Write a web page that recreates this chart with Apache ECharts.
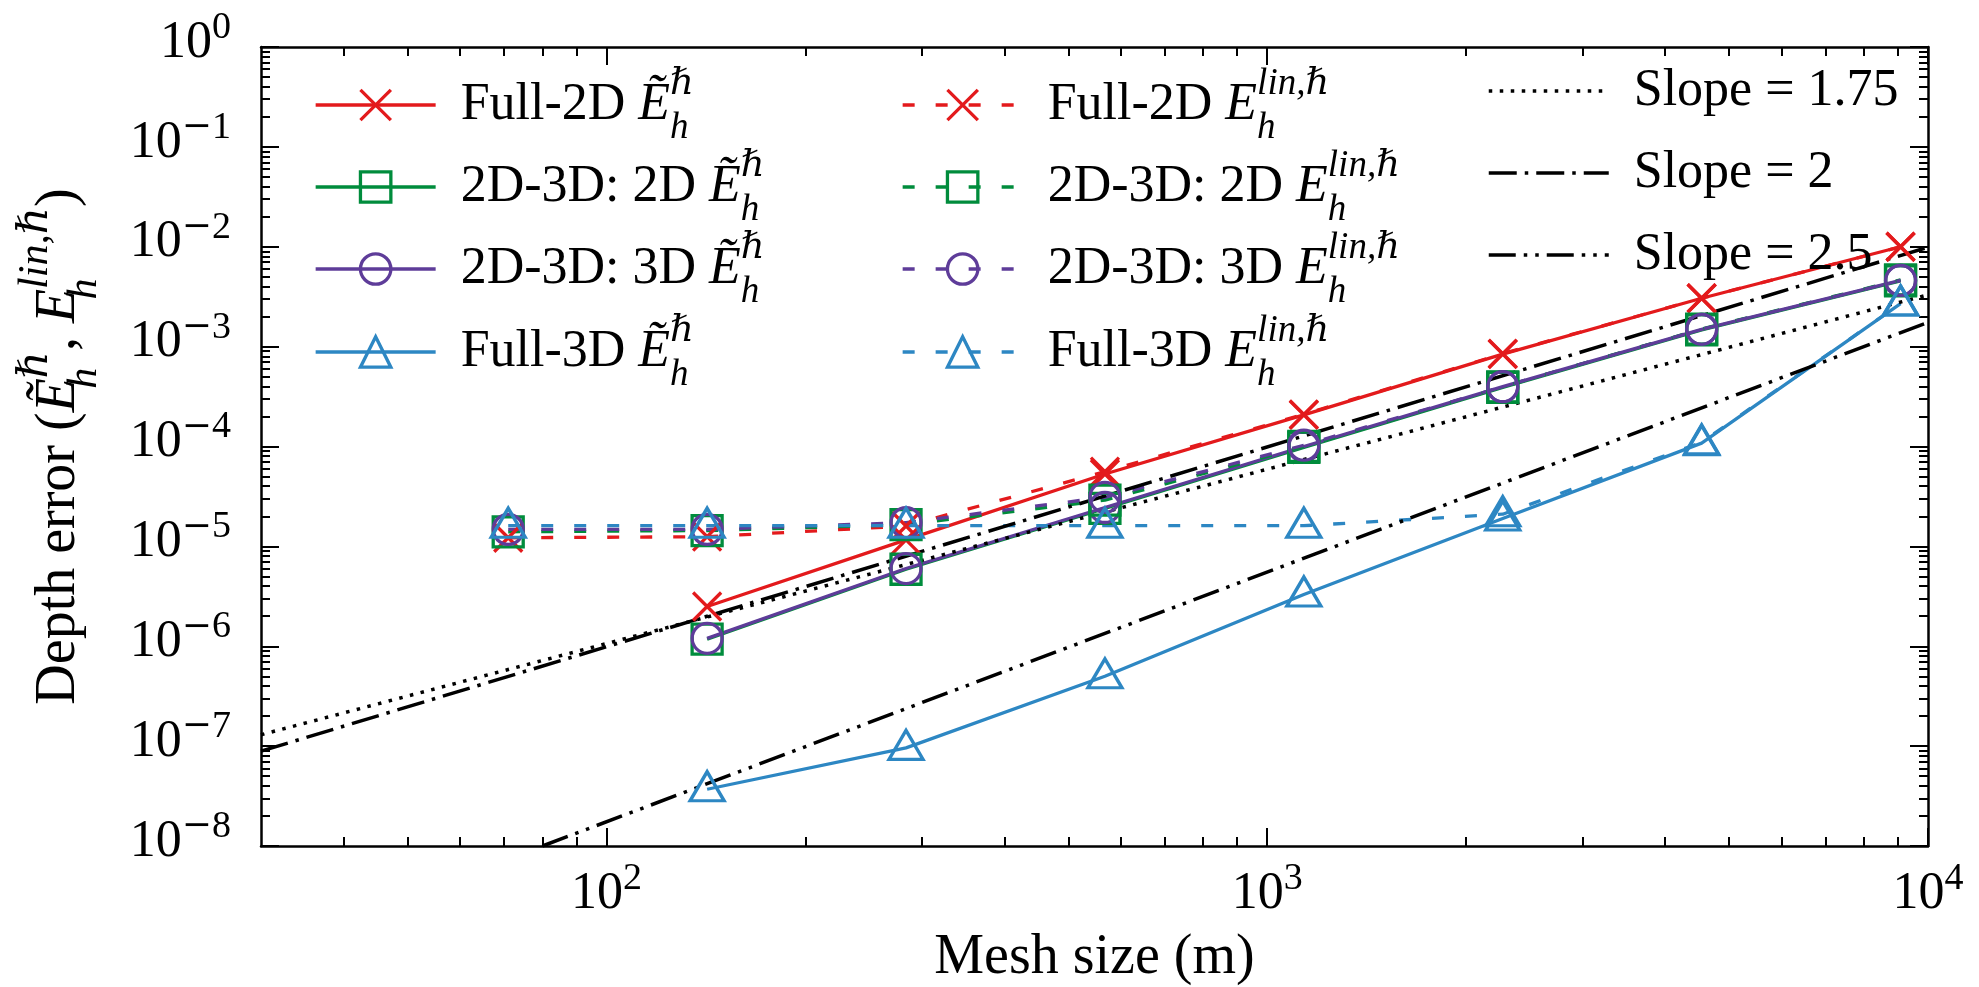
<!DOCTYPE html>
<html>
<head>
<meta charset="utf-8">
<script src="https://cdn.jsdelivr.net/npm/echarts@6/dist/echarts.min.js"></script>
<style>
  html, body { margin: 0; padding: 0; background: #fff; }
  #chart { width: 1979px; height: 987px; }
</style>
</head>
<body>
<div id="chart"></div>
<script>
// Mesh sizes (m) of the refinement sequence
const meshSize = [71, 142, 284, 568, 1136, 2272, 4544, 9088];

// Error estimator (solid lines)
const full2dTilde    = [null, 2.5e-6, 1.16e-5, 5.3e-5, 2.07e-4, 8.4e-4, 3.05e-3, 1.0e-2];
const coupled2dTilde = [null, 1.18e-6, 5.9e-6, 2.4e-5, 9.8e-5, 3.9e-4, 1.47e-3, 4.55e-3];
const coupled3dTilde = [null, 1.2e-6, 6.0e-6, 2.45e-5, 1.0e-4, 3.97e-4, 1.49e-3, 4.6e-3];
const full3dTilde    = [null, 3.7e-8, 9.6e-8, 5.0e-7, 3.3e-6, 1.9e-5, 1.08e-4, 2.7e-3];

// Linearised error (dashed lines)
const full2dLin    = [1.22e-5, 1.25e-5, 1.6e-5, 5.6e-5, 2.1e-4, 8.5e-4, 3.05e-3, 1.0e-2];
const coupled2dLin = [1.40e-5, 1.44e-5, 1.65e-5, 2.9e-5, 1.0e-4, 3.95e-4, 1.5e-3, 4.65e-3];
const coupled3dLin = [1.48e-5, 1.48e-5, 1.73e-5, 3.1e-5, 1.03e-4, 3.97e-4, 1.49e-3, 4.6e-3];
const full3dLin    = [1.61e-5, 1.61e-5, 1.61e-5, 1.61e-5, 1.61e-5, 2.1e-5, 1.1e-4, 2.7e-3];

// Reference slopes (end points of each straight line)
const slope175X = [30, 10000];
const slope175Y = [1.3e-7, 3.3e-3];
const slope2X   = [30, 10000];
const slope2Y   = [8.9e-8, 9.9e-3];
const slope25X  = [80, 10000];
const slope25Y  = [1.0e-8, 1.75e-3];

// Axis ranges and decade tick exponents
const xRange = [30, 10000];
const yRange = [1e-8, 1];
const xMajorExp = [2, 3, 4];
const yMajorExp = [-8, -7, -6, -5, -4, -3, -2, -1, 0];
const minorMult = [2, 3, 4, 5, 6, 7, 8, 9];

const FONT = "'Liberation Serif', 'DejaVu Serif', serif";
const WIDE = "'DejaVu Serif', serif";
const C = { red: '#e31a1c', green: '#008c3c', purple: '#5e3c99', blue: '#2d87c3', black: '#000' };
const X_MARK = 'path://M0,0L10,10M10,0L0,10';

// ---- tick positions in log10 space (for the frame axes) ----
const lx0 = Math.log10(xRange[0]), lx1 = Math.log10(xRange[1]);
const ly0 = Math.log10(yRange[0]), ly1 = Math.log10(yRange[1]);
function minorTicks(lo, hi) {
  const out = [];
  for (let d = Math.floor(lo); d < Math.ceil(hi); d++) {
    minorMult.forEach(m => {
      const v = Math.log10(m) + d;
      if (v > lo + 1e-9 && v < hi - 1e-9) out.push(v);
    });
  }
  return out;
}
const xMinor = minorTicks(lx0, lx1);
const yMinor = minorTicks(ly0, ly1);

// ---- rich text styles ----
function mathRich(fs, lh, sfs, supH, subH) {
  return {
    m:  { fontFamily: FONT, fontSize: fs, lineHeight: lh, color: '#000' },
    i:  { fontFamily: FONT, fontSize: fs, lineHeight: lh, fontStyle: 'italic', color: '#000' },
    sp: { fontFamily: FONT, fontSize: sfs, fontStyle: 'italic', verticalAlign: 'top',
          height: supH, lineHeight: supH, color: '#000' },
    sb: { fontFamily: FONT, fontSize: sfs, fontStyle: 'italic', verticalAlign: 'bottom',
          height: subH, lineHeight: subH, width: 0, color: '#000' }
  };
}
const tickRich = {
  n:  { fontFamily: FONT, fontSize: 52, lineHeight: 60, color: '#000' },
  e:  { fontFamily: FONT, fontSize: 38, verticalAlign: 'top', height: 30, lineHeight: 30, color: '#000' },
  em: { fontFamily: WIDE, fontSize: 36, verticalAlign: 'top', height: 30, lineHeight: 30, color: '#000' }
};
function powLabel(v) {
  const k = Math.round(v);
  return '{n|10}' + (k < 0 ? '{em|\u2212}{e|' + (-k) + '}' : '{e|' + k + '}');
}

const E_T = '{i|\u1EBC}{sb|h}{sp|\u210F}';
const E_L = '{i|E}{sb|h}{sp|lin,\u210F}';

// ---- series ----
function pairs(xs, ys) {
  return xs.map((x, i) => (ys[i] == null ? null : [x, ys[i]])).filter(Boolean);
}
const DASH = [12, 21];
const seriesDefs = [
  { name: 'Full-2D Etilde',   label: '{m|Full-2D }' + E_T,   x: meshSize, y: full2dTilde,    color: C.red,    symbol: X_MARK,     size: 28, line: 'solid', w: 3.3 },
  { name: '2D-3D: 2D Etilde', label: '{m|2D-3D: 2D }' + E_T, x: meshSize, y: coupled2dTilde, color: C.green,  symbol: 'rect',     size: 30, line: 'solid', w: 3.3 },
  { name: '2D-3D: 3D Etilde', label: '{m|2D-3D: 3D }' + E_T, x: meshSize, y: coupled3dTilde, color: C.purple, symbol: 'circle',   size: 30, line: 'solid', w: 3.3 },
  { name: 'Full-3D Etilde',   label: '{m|Full-3D }' + E_T,   x: meshSize, y: full3dTilde,    color: C.blue,   symbol: 'triangle', size: [34, 29], line: 'solid', w: 3.3 },
  { name: 'Full-2D Elin',     label: '{m|Full-2D }' + E_L,   x: meshSize, y: full2dLin,      color: C.red,    symbol: X_MARK,     size: 28, line: DASH, w: 3.3 },
  { name: '2D-3D: 2D Elin',   label: '{m|2D-3D: 2D }' + E_L, x: meshSize, y: coupled2dLin,   color: C.green,  symbol: 'rect',     size: 30, line: DASH, w: 3.3 },
  { name: '2D-3D: 3D Elin',   label: '{m|2D-3D: 3D }' + E_L, x: meshSize, y: coupled3dLin,   color: C.purple, symbol: 'circle',   size: 30, line: DASH, w: 3.3 },
  { name: 'Full-3D Elin',     label: '{m|Full-3D }' + E_L,   x: meshSize, y: full3dLin,      color: C.blue,   symbol: 'triangle', size: [34, 29], line: DASH, w: 3.3 },
  { name: 'Slope=1.75',       label: '{m|Slope = 1.75}',     x: slope175X, y: slope175Y,     color: C.black,  symbol: 'none', line: [3.5, 7.5], w: 3.5 },
  { name: 'Slope=2',          label: '{m|Slope = 2}',        x: slope2X,   y: slope2Y,       color: C.black,  symbol: 'none', line: [28, 8, 3.5, 8], w: 3.5 },
  { name: 'Slope=2.5',        label: '{m|Slope = 2.5}',      x: slope25X,  y: slope25Y,      color: C.black,  symbol: 'none', line: [27, 8, 3.5, 8, 3.5, 8], w: 3.5 }
];

const series = seriesDefs.map(d => ({
  name: d.name,
  type: 'line',
  xAxisIndex: 0,
  yAxisIndex: 0,
  data: pairs(d.x, d.y),
  symbol: d.symbol,
  symbolSize: d.size || 0,
  symbolOffset: d.symbol === 'triangle' ? [0, -3] : [0, 0],
  showSymbol: d.symbol !== 'none',
  lineStyle: { color: d.color, width: d.w, type: d.line, cap: 'butt' },
  itemStyle: { color: 'rgba(0,0,0,0)', borderColor: d.color, borderWidth: 3.3 },
  emphasis: { disabled: true },
  silent: true,
  animation: false
}));

// ---- legends: three columns, one block per entry ----
const legendCols = [314, 901, 1487];
const legendRows = [105, 187, 269, 352];
const legendRich = mathRich(52, 80, 37, 38, 34);
const legends = seriesDefs.map((d, idx) => {
  const col = idx < 4 ? 0 : (idx < 8 ? 1 : 2);
  const row = idx < 8 ? idx % 4 : idx - 8;
  const hasMark = d.symbol !== 'none';
  return {
    left: legendCols[col],
    top: legendRows[row] - 40,
    padding: 0,
    orient: 'vertical',
    itemWidth: 120,
    itemHeight: 38,
    selectedMode: false,
    data: [d.name],
    formatter: () => d.label,
    textStyle: { fontFamily: FONT, fontSize: 52, color: '#000', padding: [0, 0, 0, 20], rich: legendRich },
    lineStyle: { color: d.color, width: d.w, type: d.line, cap: 'butt' },
    itemStyle: hasMark
      ? { color: 'rgba(0,0,0,0)', borderColor: d.color, borderWidth: 3.3 }
      : { color: 'rgba(0,0,0,0)', borderColor: 'rgba(0,0,0,0)', borderWidth: 0, opacity: 0 }
  };
});

// ---- frame axes (log10 space, ticks only) ----
function frameAxis(dim, position, values, len, showLine, label) {
  const lo = dim === 'x' ? lx0 : ly0, hi = dim === 'x' ? lx1 : ly1;
  return {
    type: 'value',
    position: position,
    min: lo,
    max: hi,
    axisLine: { show: showLine, onZero: false, lineStyle: { color: '#000', width: 2.5 } },
    axisTick: { show: true, inside: true, length: len, customValues: values,
                lineStyle: { color: '#000', width: 2 } },
    axisLabel: label || { show: false },
    splitLine: { show: false },
    silent: true
  };
}

const xLabelAxis = frameAxis('x', 'bottom', xMajorExp, 18, true, {
  show: true, customValues: xMajorExp, margin: 18, formatter: powLabel, rich: tickRich
});
xLabelAxis.name = 'Mesh size (m)';
xLabelAxis.nameLocation = 'middle';
xLabelAxis.nameGap = 82;
xLabelAxis.nameTextStyle = { fontFamily: FONT, fontSize: 56, lineHeight: 60, color: '#000' };

const yLabelAxis = frameAxis('y', 'left', yMajorExp, 18, true, {
  show: true, customValues: yMajorExp, margin: 30, padding: [0, 0, 8, 0], formatter: powLabel, rich: tickRich
});
yLabelAxis.name = '{m|Depth error (}' + E_T + '{m|, }' + E_L + '{m|)}';
yLabelAxis.nameLocation = 'middle';
yLabelAxis.nameGap = 157;
yLabelAxis.nameTextStyle = { fontFamily: FONT, fontSize: 56, lineHeight: 90, color: '#000',
                             rich: mathRich(56, 90, 42, 44, 38) };

const option = {
  animation: false,
  backgroundColor: '#fff',
  grid: { left: 261, right: 51, top: 47, bottom: 141, outerBoundsMode: 'none' },
  legend: legends,
  xAxis: [
    { type: 'log', logBase: 10, min: xRange[0], max: xRange[1], show: false },
    xLabelAxis,
    frameAxis('x', 'bottom', xMinor, 9, false),
    frameAxis('x', 'top', xMajorExp, 18, true),
    frameAxis('x', 'top', xMinor, 9, false)
  ],
  yAxis: [
    { type: 'log', logBase: 10, min: yRange[0], max: yRange[1], show: false },
    yLabelAxis,
    frameAxis('y', 'left', yMinor, 9, false),
    frameAxis('y', 'right', yMajorExp, 18, true),
    frameAxis('y', 'right', yMinor, 9, false)
  ],
  series: series
};

const chart = echarts.init(document.getElementById('chart'), null, { renderer: 'canvas' });
chart.setOption(option);
</script>
</body>
</html>
